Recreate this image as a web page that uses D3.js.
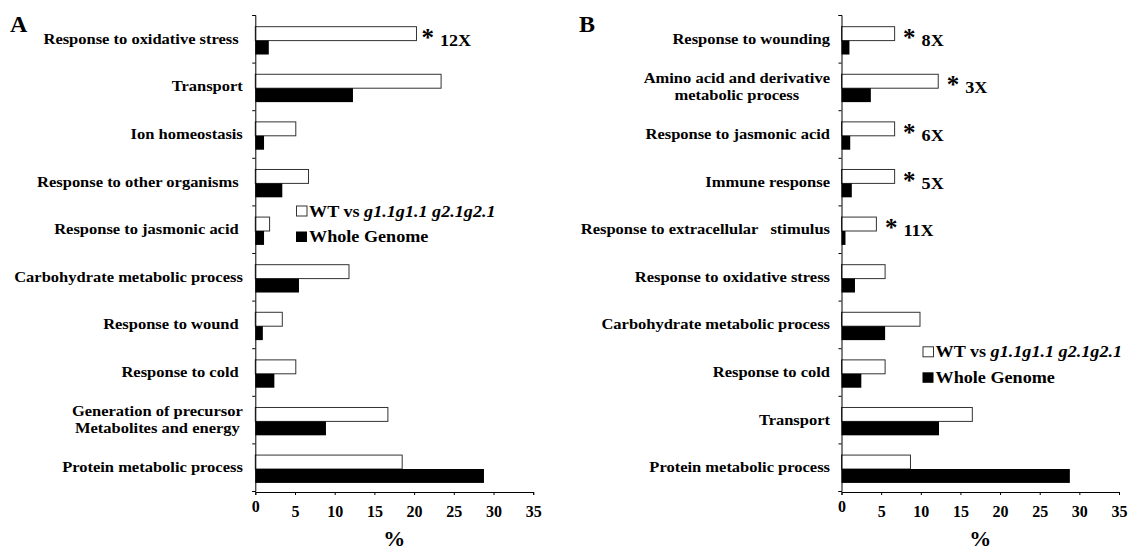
<!DOCTYPE html>
<meta charset="utf-8">
<head>
<title>GO categories</title>
<script src="https://cdn.jsdelivr.net/npm/d3@7/dist/d3.min.js"></script>
<style>
    body { margin: 0; background: #fff; }
    svg text { font-family: "Liberation Serif", "Times New Roman", serif; font-weight: bold; fill: #000; white-space: pre; }
</style>
</head>
<body>
<script>
    // panel A data (top to bottom)
    var catsA = [
        ["Response to oxidative stress "],
        ["Transport"],
        ["Ion homeostasis"],
        ["Response to other organisms "],
        ["Response to jasmonic acid "],
        ["Carbohydrate metabolic process"],
        ["Response to wound "],
        ["Response to cold "],
        ["Generation of precursor", "Metabolites and energy"],
        ["Protein metabolic process"]
    ];
    var wtA = [20.3, 23.4, 5.1, 6.7, 1.8, 11.8, 3.4, 5.1, 16.7, 18.5];
    var wgA = [1.7, 12.3, 1.1, 3.4, 1.1, 5.5, 0.95, 2.4, 8.9, 28.8];
    var foldA = ["12X", "", "", "", "", "", "", "", "", ""];

    // panel B data
    var catsB = [
        ["Response to wounding"],
        ["Amino acid and derivative", "metabolic process"],
        ["Response to jasmonic acid"],
        ["Immune response"],
        ["Response to extracellular   stimulus"],
        ["Response to oxidative stress"],
        ["Carbohydrate metabolic process"],
        ["Response to cold"],
        ["Transport"],
        ["Protein metabolic process"]
    ];
    var wtB = [6.7, 12.2, 6.7, 6.7, 4.4, 5.5, 9.9, 5.5, 16.5, 8.7];
    var wgB = [1.0, 3.7, 1.1, 1.3, 0.5, 1.7, 5.5, 2.5, 12.3, 28.8];
    var foldB = ["8X", "3X", "6X", "5X", "11X", "", "", "", "", ""];

    var xTicks = [0, 5, 10, 15, 20, 25, 30, 35];
    var series = ["WT vs ", "Whole Genome"];

    var W = 1128, H = 550;
    var svg = d3.select("body").append("svg")
        .attr("width", W).attr("height", H);

    var plotTop = 15, plotBottom = 491;
    var sx = 1.1;   // the scan is a bit wider than tall

    function panel(opt) {
        var g = svg.append("g");
        var n = opt.cats.length;

        var x = d3.scaleLinear().domain([0, 35]).range([opt.x0, opt.x1]);
        var y = d3.scaleBand().domain(d3.range(n)).range([plotTop, plotBottom]).padding(0);
        var yb = d3.scaleLinear().domain([0, n]).range([plotTop, plotBottom]);
        var sub = d3.scaleBand().domain([0, 1]).range([1.8, y.bandwidth() + 1.8])
            .paddingInner(0).paddingOuter(0.71);

        // bars
        var rows = g.selectAll(".row").data(d3.range(n)).enter()
            .append("g").attr("transform", function(i){ return "translate(0," + y(i) + ")"; });

        rows.append("rect")
            .attr("x", x(0))
            .attr("y", sub(0))
            .attr("width", function(i){ return x(opt.wt[i]) - x(0); })
            .attr("height", sub.bandwidth())
            .attr("fill", "#fff")
            .attr("stroke", "#333")
            .attr("stroke-width", 1);

        rows.append("rect")
            .attr("x", x(0))
            .attr("y", sub(1))
            .attr("width", function(i){ return x(opt.wg[i]) - x(0); })
            .attr("height", sub.bandwidth())
            .attr("fill", "#000");

        // fold-change notes
        var notes = rows.filter(function(i){ return opt.fold[i] != ""; });
        notes.append("text")
            .attr("x", function(i){ return x(opt.wt[i]) + opt.starGap; })
            .attr("y", y.bandwidth() / 2 + 7)
            .attr("font-size", 25)
            .text("*");
        notes.append("text")
            .attr("transform", function(i){
                return "translate(" + (x(opt.wt[i]) + opt.starGap + 18.5) + "," + (y.bandwidth() / 2 + 7) + ") scale(" + sx + ",1)";
            })
            .attr("font-size", 16.5)
            .text(function(i){ return opt.fold[i]; });

        // category labels (multi-line ones are centred on their widest line)
        rows.append("text")
            .attr("transform", "translate(" + (x(0) - opt.labelGap) + "," + (y.bandwidth() / 2) + ") scale(" + sx + ",1)")
            .attr("font-size", 15)
            .each(function(i){
                var lines = opt.cats[i];
                var t = d3.select(this);
                if (lines.length == 1) {
                    t.attr("text-anchor", "end")
                     .append("tspan").attr("x", 0).attr("y", 5).text(lines[0]);
                    return;
                }
                var y0 = 5 - (lines.length - 1) * opt.lineGap / 2;
                var spans = lines.map(function(l, k){
                    return t.append("tspan").attr("y", y0 + k * opt.lineGap).text(l);
                });
                var maxW = d3.max(spans, function(s){ return s.node().getComputedTextLength(); });
                t.attr("text-anchor", "middle");
                spans.forEach(function(s){ s.attr("x", -maxW / 2); });
            });

        // axes
        g.append("g")
            .attr("transform", "translate(" + x(0) + ",0)")
            .call(d3.axisLeft(yb).tickValues(d3.range(n + 1)).tickSize(3).tickSizeOuter(3).tickFormat(""))
            .call(function(a){ a.selectAll("path,line").attr("stroke", "#000"); });

        var xa = g.append("g")
            .attr("transform", "translate(0," + (plotBottom + 1) + ")")
            .call(d3.axisBottom(x).tickValues(xTicks).tickSize(3).tickSizeOuter(3).tickPadding(11));
        xa.attr("font-family", null).attr("font-size", 16);
        xa.selectAll("path,line").attr("stroke", "#000");
        // the zero label sits a little higher in the original
        xa.selectAll(".tick text").filter(function(d){ return d === 0; })
            .attr("y", 9);

        g.append("text")
            .attr("x", (opt.x0 + opt.x1) / 2)
            .attr("y", 546)
            .attr("text-anchor", "middle")
            .attr("font-size", 22)
            .text("%");

        g.append("text")
            .attr("x", opt.letterX)
            .attr("y", 32)
            .attr("font-size", 24)
            .text(opt.letter);

        // legend
        var lg = g.append("g").attr("transform", "translate(" + opt.legX + "," + opt.legY + ")");
        lg.append("rect").attr("x", 0.5).attr("y", -10.5).attr("width", 10.5).attr("height", 10)
            .attr("fill", "#fff").attr("stroke", "#333");
        var t1 = lg.append("text").attr("transform", "translate(13,0) scale(" + sx + ",1)").attr("font-size", 16.5);
        t1.append("tspan").text(series[0]);
        t1.append("tspan").attr("font-style", "italic").text("g1.1g1.1 g2.1g2.1");
        lg.append("rect").attr("x", 0).attr("y", 15).attr("width", 11).attr("height", 10.5).attr("fill", "#000");
        lg.append("text").attr("transform", "translate(13,25.5) scale(" + sx + ",1)").attr("font-size", 16.5).text(series[1]);
    }

    panel({ cats: catsA, wt: wtA, wg: wgA, fold: foldA, x0: 255.3, x1: 533.2,
            labelGap: 12.5, lineGap: 17.6, starGap: 5, letter: "A", letterX: 10, legX: 296, legY: 216.5 });
    panel({ cats: catsB, wt: wtB, wg: wgB, fold: foldB, x0: 841.5, x1: 1119,
            labelGap: 11.5, lineGap: 17.6, starGap: 8.5, letter: "B", letterX: 579, legX: 922.5, legY: 357.3 });
</script>
</body>
</html>
